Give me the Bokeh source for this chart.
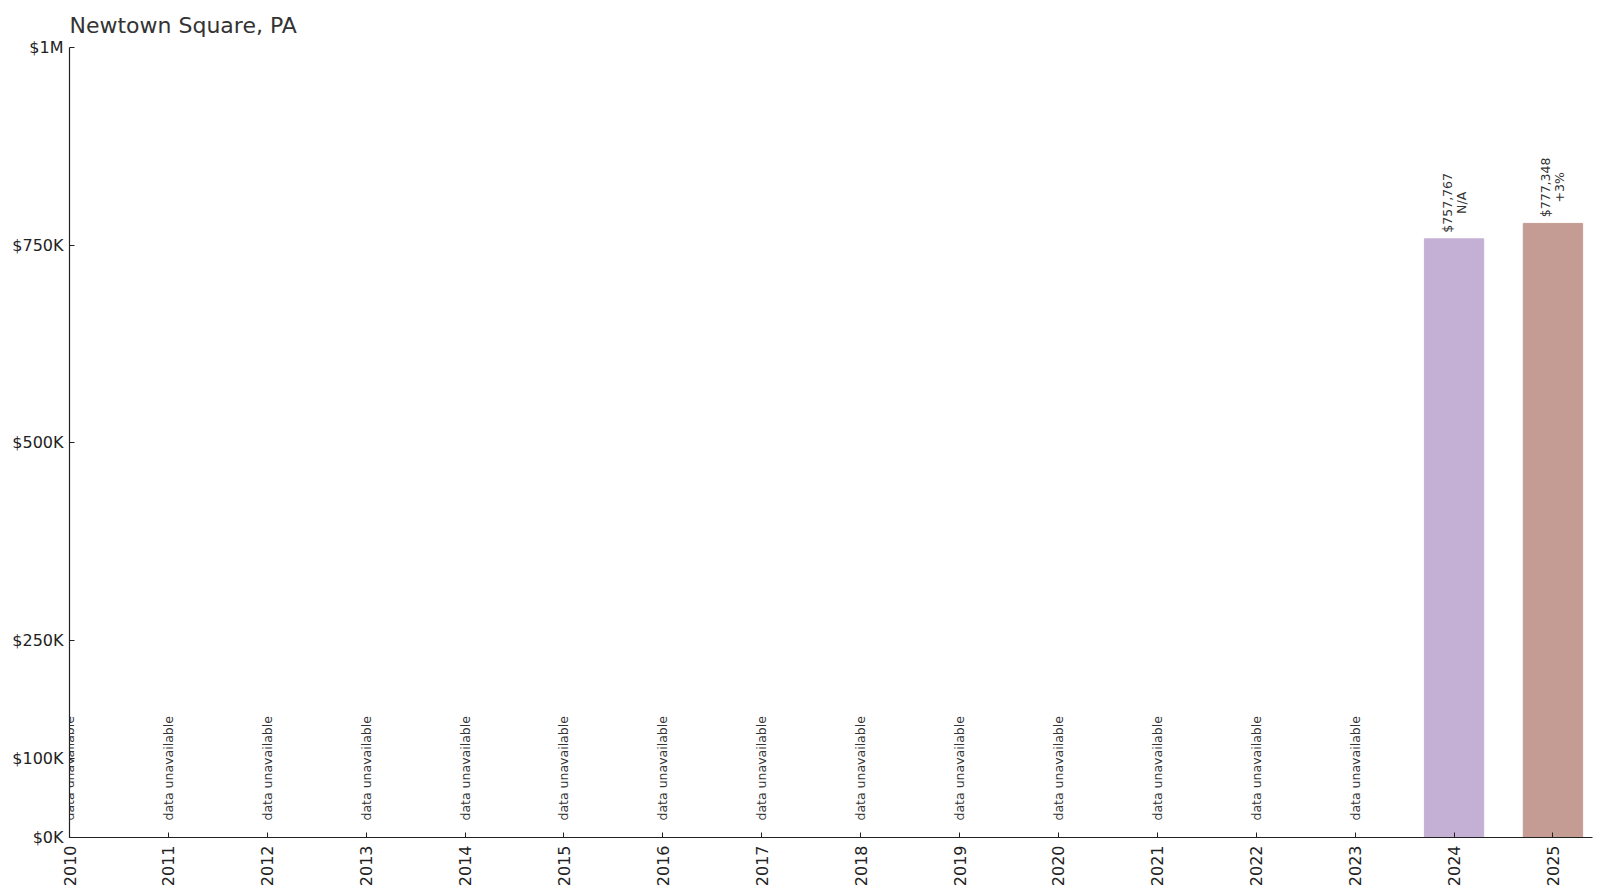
import math
from bokeh.plotting import figure
from bokeh.models import Range1d, FixedTicker, ColumnDataSource, LabelSet
from bokeh.core.properties import value
from bokeh.embed import file_html
from bokeh.resources import INLINE

title = "Newtown Square, PA"
years = list(range(2010, 2026))
prices = [None] * 14 + [757767, 777348]
changes = [None] * 14 + ["N/A", "+3%"]
bar_colors = ["#c5b0d5", "#c49c94"]
y_ticks = [0, 100000, 250000, 500000, 750000, 1000000]
y_tick_labels = ["$0K", "$100K", "$250K", "$500K", "$750K", "$1M"]

FONT = "DejaVu Sans"
TXT = "#333333"

have = [(y, v, c) for y, v, c in zip(years, prices, changes) if v is not None]
bar_src = ColumnDataSource(dict(
    x=[h[0] for h in have],
    top=[h[1] for h in have],
    color=bar_colors[:len(have)],
    vlabel=["${:,}".format(h[1]) for h in have],
    clabel=[h[2] for h in have],
))
na_src = ColumnDataSource(dict(
    x=[y for y, v in zip(years, prices) if v is None],
    y=[0 for y, v in zip(years, prices) if v is None],
    t=["data unavailable" for y, v in zip(years, prices) if v is None],
))

p = figure(width=1600, height=895, output_backend="svg", toolbar_location=None,
           x_range=Range1d(2010, 2025.4), y_range=Range1d(0, 1000000),
           min_border_left=69, min_border_right=8, min_border_top=47,
           min_border_bottom=58)
p.title.text = title
p.title.text_font = FONT
p.title.text_font_size = "22px"
p.title.text_font_style = "normal"
p.title.text_color = TXT
p.title.align = "left"
p.title.offset = 0
p.title.text_line_height = 1.6
p.title.standoff = 19

p.outline_line_color = None
p.xgrid.visible = False
p.ygrid.visible = False
p.background_fill_color = "white"
p.border_fill_color = "white"

p.vbar(x="x", top="top", width=0.6, color="color", source=bar_src)

p.text(x="x", y="top", text="vlabel", source=bar_src, angle=math.pi / 2,
       text_align="center", text_baseline="middle", x_offset=-7, y_offset=-36,
       text_font=value(FONT), text_font_size="12.5px", text_color=TXT)
p.text(x="x", y="top", text="clabel", source=bar_src, angle=math.pi / 2,
       text_align="center", text_baseline="middle", x_offset=7, y_offset=-36,
       text_font=value(FONT), text_font_size="12.5px", text_color=TXT)

na_labels = LabelSet(x="x", y="y", text="t", source=na_src, angle=math.pi / 2,
                     text_align="left", text_baseline="middle", y_offset=17,
                     text_font=value(FONT), text_font_size="12.5px", text_color=TXT)
p.add_layout(na_labels)

p.xaxis.ticker = FixedTicker(ticks=years)
p.xaxis.major_label_overrides = {y: str(y) for y in years}
p.xaxis.major_label_orientation = math.pi / 2
p.yaxis.ticker = FixedTicker(ticks=y_ticks)
p.yaxis.major_label_overrides = dict(zip(y_ticks, y_tick_labels))

for ax in (p.xaxis, p.yaxis):
    ax.axis_line_color = "#222222"
    ax.axis_line_width = 1.2
    ax.major_tick_line_color = "#222222"
    ax.major_tick_in = 5
    ax.major_tick_out = 0
    ax.minor_tick_line_color = None
    ax.major_label_text_font = FONT
    ax.major_label_text_font_size = "16px"
    ax.major_label_text_color = "#222222"
p.xaxis.major_label_standoff = 8
p.yaxis.major_label_standoff = 6

open("out.html", "w").write(file_html(p, INLINE))
